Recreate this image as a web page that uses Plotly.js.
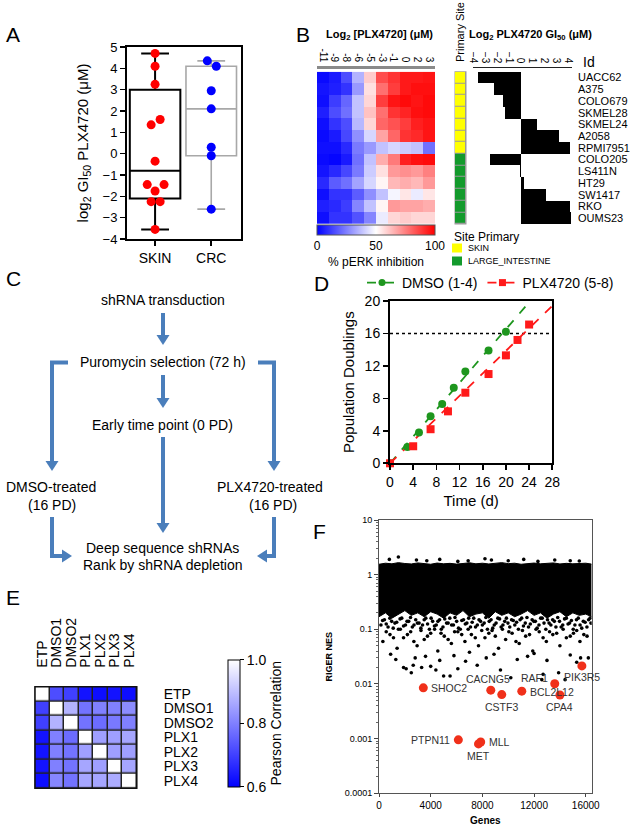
<!DOCTYPE html>
<html><head><meta charset="utf-8">
<script src="https://cdn.plot.ly/plotly-3.0.1.min.js"></script>
<style>body{margin:0;background:#fff}</style>
</head><body><div id="chart" style="width:642px;height:836px"></div>
<script>
// ---------------- DATA ----------------
// Panel A
const gi50Groups = ['SKIN','CRC'];
const boxQ1 = [-2.1, -0.1];
const boxMedian = [-0.8, 2.1];
const boxQ3 = [3.0, 4.1];
const boxLow = [-3.55, -2.6];
const boxHigh = [4.7, 4.35];
const skinGI50 = [4.7, 4.1, 3.25, 1.6, 1.35, -0.35, -1.45, -1.45, -1.75, -2.25, -2.25, -3.55];
const skinOffset = [0, 0, 0, 0.09, -0.07, 0, -0.14, 0.16, 0, -0.07, 0.09, 0];
const crcGI50 = [4.35, 4.1, 2.95, 2.1, 0.3, -0.1, -2.6];
const crcOffset = [-0.07, 0.09, 0, 0, 0, 0, 0];

// Panel B
const concLabels = ['-11','-9','-8','-6','-5','-3','-1','0','2','3'];
const cellLines = ['UACC62','A375','COLO679','SKMEL28','SKMEL24','A2058','RPMI7951','COLO205','LS411N','HT29','SW1417','RKO','OUMS23'];
const pERK = [
  [2, 5, 15, 35, 60, 85, 90, 95, 95, 96],
  [4, 6, 10, 30, 56, 78, 88, 95, 97, 97],
  [3, 12, 20, 38, 58, 88, 96, 98, 96, 98],
  [6, 15, 22, 38, 62, 78, 90, 93, 97, 98],
  [3, 10, 15, 36, 58, 80, 84, 88, 94, 96],
  [2, 5, 14, 28, 42, 68, 80, 90, 92, 96],
  [3, 3, 8, 24, 30, 38, 42, 40, 38, 22],
  [2, 1, 5, 22, 38, 66, 76, 94, 97, 98],
  [4, 8, 14, 24, 40, 56, 70, 72, 70, 75],
  [8, 18, 22, 32, 42, 52, 64, 66, 64, 70],
  [3, 10, 10, 18, 28, 38, 48, 55, 46, 55],
  [6, 8, 12, 26, 38, 52, 70, 68, 68, 66],
  [3, 10, 10, 16, 26, 46, 58, 60, 58, 58]
];
const primarySite = ['SKIN','SKIN','SKIN','SKIN','SKIN','SKIN','SKIN','LARGE_INTESTINE','LARGE_INTESTINE','LARGE_INTESTINE','LARGE_INTESTINE','LARGE_INTESTINE','LARGE_INTESTINE'];
const siteNames = ['SKIN','LARGE_INTESTINE'];
const cellGI50 = [-3.55, -2.25, -1.45, -1.3, 1.35, 3.25, 4.1, -2.55, -0.1, 0.3, 2.1, 4.1, 4.2];
const gi50Ticks = [-4,-3,-2,-1,0,1,2,3,4];

// Panel D
const dmsoDays = [0, 3, 5, 7, 9, 11, 13, 17, 20];
const dmsoPD = [0, 2, 3.8, 5.8, 7.3, 9.3, 11.3, 13.9, 16.2];
const plxDays = [0, 4, 7, 10, 13, 17, 20, 22, 24];
const plxPD = [0, 2.1, 4.2, 6.4, 8.7, 11, 13.3, 15.2, 17.1];
const dmsoFitDays = [0, 24.2];
const dmsoFitPD = [0, 20];
const plxFitDays = [0, 28];
const plxFitPD = [0, 19.4];
const targetDays = [0, 28];
const targetPD = [16, 16];

// Panel E
const sampleNames = ['ETP','DMSO1','DMSO2','PLX1','PLX2','PLX3','PLX4'];
const pearson = [
  [1.00, 0.72, 0.70, 0.63, 0.62, 0.63, 0.62],
  [0.70, 1.00, 0.88, 0.78, 0.80, 0.80, 0.82],
  [0.70, 0.88, 1.00, 0.78, 0.77, 0.79, 0.80],
  [0.63, 0.80, 0.77, 1.00, 0.85, 0.85, 0.86],
  [0.63, 0.80, 0.78, 0.85, 1.00, 0.85, 0.85],
  [0.63, 0.80, 0.78, 0.86, 0.85, 1.00, 0.86],
  [0.62, 0.81, 0.78, 0.86, 0.86, 0.87, 1.00]
];

// Panel F
const geneBins = [0,500,1000,1500,2000,2500,3000,3500,4000,4500,5000,5500,6000,6500,7000,7500,8000,8500,9000,9500,10000,10500,11000,11500,12000,12500,13000,13500,14000,14500,15000,15500,16000,16450];
const bandTop = [1.55,1.62,1.58,1.66,1.6,1.57,1.64,1.6,1.55,1.63,1.58,1.61,1.56,1.6,1.65,1.58,1.62,1.57,1.6,1.66,1.59,1.62,1.55,1.6,1.63,1.58,1.6,1.64,1.57,1.61,1.58,1.6,1.62,1.56];
const bandBottom = [0.17,0.2,0.16,0.19,0.22,0.18,0.2,0.17,0.21,0.19,0.16,0.2,0.18,0.22,0.17,0.19,0.2,0.16,0.21,0.18,0.2,0.17,0.19,0.22,0.18,0.2,0.16,0.19,0.21,0.17,0.2,0.18,0.19,0.17];
const highGeneX = [800,1500,2900,3700,4700,6100,6900,8200,8700,10000,11200,12300,13600,14800,15500];
const highGeneNES = [1.9,2.1,1.85,1.8,1.9,1.75,1.8,1.95,1.85,1.8,1.9,1.75,1.85,1.8,1.78];
const midGeneX1 = [150,420,700,980,1230,1500,1760,2050,2300,2580,2840,3100,3370,3620,3900,4150,4430,4690,4950,5230,5480,5760,6010,6290,6540,6800,7080,7330,7610,7860,8140,8390,8670,8920,9200,9450,9730,9980,10260,10510,10790,11040,11320,11570,11850,12100,12380,12630,12910,13160,13440,13690,13970,14220,14500,14750,15030,15280,15560,15810,16090,16330];
const midGeneNES1 = [0.12,0.15,0.11,0.14,0.13,0.10,0.16,0.12,0.14,0.11,0.15,0.13,0.12,0.16,0.10,0.14,0.12,0.15,0.11,0.13,0.16,0.12,0.14,0.10,0.15,0.13,0.11,0.16,0.12,0.14,0.13,0.10,0.15,0.12,0.16,0.11,0.14,0.13,0.15,0.12,0.10,0.16,0.13,0.11,0.15,0.14,0.12,0.16,0.10,0.13,0.15,0.11,0.14,0.12,0.16,0.13,0.10,0.15,0.12,0.14,0.11,0.16];
const midGeneX2 = [280,560,840,1100,1370,1630,1900,2170,2440,2710,2970,3240,3500,3760,4030,4290,4560,4820,5090,5350,5620,5880,6150,6410,6680,6940,7210,7470,7740,8000,8270,8530,8800,9060,9330,9590,9860,10120,10390,10650,10920,11180,11450,11710,11980,12240,12510,12770,13040,13300,13570,13830,14100,14360,14630,14890,15160,15420,15690,15950,16220,16400];
const midGeneNES2 = [0.145,0.125,0.16,0.105,0.135,0.155,0.115,0.14,0.165,0.12,0.13,0.105,0.15,0.125,0.16,0.115,0.14,0.1,0.155,0.13,0.12,0.165,0.105,0.145,0.125,0.16,0.135,0.11,0.15,0.12,0.165,0.14,0.105,0.13,0.155,0.12,0.16,0.11,0.145,0.135,0.15,0.115,0.165,0.125,0.14,0.105,0.16,0.13,0.15,0.12,0.14,0.165,0.11,0.155,0.125,0.145,0.12,0.16,0.105,0.135,0.15,0.13];
const lowGeneX1 = [300,850,1400,1900,2450,2950,3500,4000,4550,5050,5600,6100,6650,7150,7700,8200,8750,9250,9800,10300,10850,11350,11900,12400,12950,13450,14000,14500,15050,15550,16100];
const lowGeneNES1 = [0.06,0.08,0.045,0.07,0.09,0.05,0.065,0.085,0.04,0.075,0.055,0.09,0.06,0.08,0.05,0.07,0.095,0.045,0.065,0.085,0.055,0.075,0.04,0.09,0.06,0.08,0.05,0.07,0.085,0.06,0.075];
const lowGeneX2 = [560,1120,1650,2200,2700,3250,3750,4300,4800,5350,5850,6400,6900,7450,7950,8500,9000,9550,10050,10600,11100,11650,12150,12700,13200,13750,14250,14800,15300,15850];
const lowGeneNES2 = [0.09,0.07,0.1,0.08,0.06,0.095,0.075,0.1,0.085,0.065,0.09,0.08,0.1,0.07,0.095,0.085,0.075,0.1,0.09,0.06,0.095,0.08,0.1,0.07,0.09,0.085,0.1,0.075,0.095,0.08];
const tailGeneX = [1900,2100,2500,2650,3300,4000,4400,5000,5500,6100,7600,9400,10200,12600,12700,13900,14400,15300,15600,900,1300,2800,3600,4700,5800,6700,7000,8300,8900,10700,11500,12000,13000,14800,16200];
const tailGeneNES = [0.02,0.019,0.016,0.022,0.02,0.021,0.018,0.014,0.014,0.019,0.022,0.018,0.013,0.012,0.015,0.016,0.012,0.025,0.03,0.035,0.028,0.03,0.032,0.027,0.033,0.026,0.038,0.03,0.035,0.028,0.032,0.036,0.027,0.034,0.03];
const hitGenes = ['SHOC2','CACNG5','CSTF3','BCL2L12','RAF1','CPA4','PIK3R5','PTPN11','MET','MLL'];
const hitRank = [3430, 8650, 9500, 11050, 13600, 14000, 15700, 6140, 7700, 7870];
const hitNES = [0.0085, 0.0077, 0.0064, 0.0074, 0.0101, 0.0063, 0.0214, 0.00095, 0.0008, 0.00087];

// ---------------- STYLE / LAYOUT ----------------
const FONT = '"Liberation Sans", Arial, Helvetica, sans-serif';
const W = 642, H = 836;
const X = p => p / W;
const Y = p => 1 - p / H;
const ARROW = '#4a7ebb';
const GREEN = '#1e961e';
const RED = '#ff1a1a';

const traces = [];
const noLeg = {showlegend: false, hoverinfo: 'skip'};

// Panel A boxes
const boxStyles = [{color: '#000', width: 2}, {color: '#a8a8a8', width: 1.6}];
gi50Groups.forEach((g, i) => {
  traces.push(Object.assign({
    type: 'box', x: [i], q1: [boxQ1[i]], median: [boxMedian[i]], q3: [boxQ3[i]],
    lowerfence: [boxLow[i]], upperfence: [boxHigh[i]], width: 0.9, whiskerwidth: 0.55,
    line: boxStyles[i], fillcolor: 'rgba(0,0,0,0)', boxpoints: false, name: g,
    xaxis: 'x', yaxis: 'y'
  }, noLeg));
});
traces.push(Object.assign({type: 'scatter', mode: 'markers', x: skinOffset.map(o => 0 + o), y: skinGI50,
  marker: {color: '#ff0000', size: 9}, cliponaxis: false, xaxis: 'x', yaxis: 'y'}, noLeg));
traces.push(Object.assign({type: 'scatter', mode: 'markers', x: crcOffset.map(o => 1 + o), y: crcGI50,
  marker: {color: '#0000ff', size: 9}, cliponaxis: false, xaxis: 'x', yaxis: 'y'}, noLeg));

// Panel B heatmap
traces.push(Object.assign({type: 'heatmap', z: pERK, x: concLabels, y: cellLines, xaxis: 'x2', yaxis: 'y2',
  zmin: 0, zmax: 100, colorscale: [[0, '#0000ff'], [0.5, '#ffffff'], [1, '#ff0000']],
  colorbar: {orientation: 'h', x: X(376), xanchor: 'center', y: Y(225), yanchor: 'top',
    len: 118 / W, lenmode: 'fraction', thickness: 10, thicknessmode: 'pixels',
    outlinewidth: 1, outlinecolor: '#555', tickvals: [0, 50, 100], ticks: '',
    tickfont: {size: 12, family: FONT}, xpad: 0, ypad: 0,
    title: {text: '% pERK inhibition', side: 'bottom', font: {size: 12, family: FONT}}}
}, noLeg));
// Primary site column
traces.push(Object.assign({type: 'heatmap', z: primarySite.map(s => [siteNames.indexOf(s)]), x: ['site'], y: cellLines,
  xaxis: 'x3', yaxis: 'y3', zmin: 0, zmax: 1, showscale: false, xgap: 1, ygap: 1,
  colorscale: [[0, '#ffff00'], [0.5, '#ffff00'], [0.5, '#139a2c'], [1, '#139a2c']]}, noLeg));
// GI50 bars
traces.push(Object.assign({type: 'bar', orientation: 'h', x: cellGI50, y: cellLines, width: 1,
  marker: {color: '#000', line: {width: 0}}, xaxis: 'x4', yaxis: 'y4'}, noLeg));

// Panel D
traces.push(Object.assign({type: 'scatter', mode: 'lines', x: targetDays, y: targetPD,
  line: {color: '#000', width: 1.6, dash: 'dot'}, xaxis: 'x5', yaxis: 'y5'}, noLeg));
traces.push(Object.assign({type: 'scatter', mode: 'lines', x: dmsoFitDays, y: dmsoFitPD,
  line: {color: GREEN, width: 1.8, dash: 'dash'}, xaxis: 'x5', yaxis: 'y5'}, noLeg));
traces.push(Object.assign({type: 'scatter', mode: 'lines', x: plxFitDays, y: plxFitPD,
  line: {color: RED, width: 1.8, dash: 'dash'}, xaxis: 'x5', yaxis: 'y5'}, noLeg));
traces.push(Object.assign({type: 'scatter', mode: 'markers', x: dmsoDays, y: dmsoPD, cliponaxis: false,
  marker: {color: GREEN, size: 8, symbol: 'circle'}, xaxis: 'x5', yaxis: 'y5'}, noLeg));
traces.push(Object.assign({type: 'scatter', mode: 'markers', x: plxDays, y: plxPD, cliponaxis: false,
  marker: {color: RED, size: 8, symbol: 'square'}, xaxis: 'x5', yaxis: 'y5'}, noLeg));
traces.push({type: 'scatter', mode: 'lines+markers', x: [null], y: [null], name: 'DMSO (1-4)', showlegend: true,
  line: {color: GREEN, width: 1.8, dash: 'dash'}, marker: {color: GREEN, size: 7, symbol: 'circle'}, xaxis: 'x5', yaxis: 'y5'});
traces.push({type: 'scatter', mode: 'lines+markers', x: [null], y: [null], name: 'PLX4720 (5-8)', showlegend: true,
  line: {color: RED, width: 1.8, dash: 'dash'}, marker: {color: RED, size: 7, symbol: 'square'}, xaxis: 'x5', yaxis: 'y5'});

// Panel E
traces.push(Object.assign({type: 'heatmap', z: pearson, x: sampleNames, y: sampleNames, xaxis: 'x6', yaxis: 'y6',
  zmin: 0.6, zmax: 1.0, xgap: 1.5, ygap: 1.5, colorscale: [[0, '#0000ff'], [1, '#ffffff']],
  colorbar: {x: X(228), xanchor: 'left', y: Y(786.7), yanchor: 'bottom', len: (786.7 - 660) / H, lenmode: 'fraction',
    thickness: 12, thicknessmode: 'pixels', outlinewidth: 1, outlinecolor: '#000', xpad: 0, ypad: 0,
    tickvals: [0.6, 0.8, 1.0], ticktext: ['0.6', '0.8', '1.0'], ticks: 'outside', ticklen: 4, tickcolor: '#000',
    tickfont: {size: 14, family: FONT},
    title: {text: 'Pearson Correlation', side: 'right', font: {size: 14, family: FONT}}}
}, noLeg));

// Panel F
traces.push(Object.assign({type: 'scatter', mode: 'lines', x: geneBins, y: bandBottom,
  line: {color: '#000', width: 1}, xaxis: 'x7', yaxis: 'y7'}, noLeg));
traces.push(Object.assign({type: 'scatter', mode: 'lines', x: geneBins, y: bandTop, fill: 'tonexty', fillcolor: '#000',
  line: {color: '#000', width: 1}, xaxis: 'x7', yaxis: 'y7'}, noLeg));
traces.push(Object.assign({type: 'scatter', mode: 'markers',
  x: [].concat(highGeneX, midGeneX1, midGeneX2, lowGeneX1, lowGeneX2, tailGeneX),
  y: [].concat(highGeneNES, midGeneNES1, midGeneNES2, lowGeneNES1, lowGeneNES2, tailGeneNES),
  marker: {color: '#000', size: 3.6}, xaxis: 'x7', yaxis: 'y7'}, noLeg));
traces.push(Object.assign({type: 'scatter', mode: 'markers', x: hitRank, y: hitNES,
  marker: {color: '#f0301a', size: 9}, xaxis: 'x7', yaxis: 'y7'}, noLeg));

// ---------- axes ----------
const hidden = {showgrid: false, zeroline: false, showticklabels: false, ticks: '', showline: false};
const frame = {showgrid: false, zeroline: false, showline: true, mirror: true, linecolor: '#000', linewidth: 2,
  ticks: 'outside', ticklen: 5, tickwidth: 1.6, tickcolor: '#000'};

const layout = {
  width: W, height: H, margin: {l: 0, r: 0, t: 0, b: 0},
  paper_bgcolor: '#fff', plot_bgcolor: 'rgba(0,0,0,0)',
  font: {family: FONT, color: '#000', size: 13},
  showlegend: true,
  legend: {orientation: 'h', x: X(362), xanchor: 'left', y: Y(283), yanchor: 'middle',
    font: {size: 14, family: FONT}, bgcolor: 'rgba(0,0,0,0)', itemwidth: 30, traceorder: 'normal'},
  // A
  xaxis: Object.assign({}, frame, {domain: [X(127), X(241)], range: [-0.5, 1.53], tickvals: [0, 1], ticktext: gi50Groups,
    tickfont: {size: 14}, anchor: 'y'}),
  yaxis: Object.assign({}, frame, {domain: [Y(239), Y(47)], range: [-4, 5], dtick: 1, tickfont: {size: 13}, anchor: 'x',
    title: {text: 'log<sub>2</sub> GI<sub>50</sub> PLX4720 (μM)', font: {size: 15}, standoff: 10}}),
  // B heatmap
  xaxis2: {domain: [X(317), X(435)], type: 'category', anchor: 'free', position: Y(66.7), side: 'top',
    tickmode: 'array', tickvals: concLabels, ticktext: concLabels,
    tickangle: 90, tickfont: {size: 10}, ticks: '', showline: true, linecolor: '#8a8a8a', linewidth: 3,
    showgrid: false, zeroline: false},
  yaxis2: Object.assign({}, hidden, {domain: [Y(224), Y(71.7)], type: 'category', autorange: 'reversed', anchor: 'x2'}),
  xaxis3: Object.assign({}, hidden, {domain: [X(455), X(466)], anchor: 'y3'}),
  yaxis3: Object.assign({}, hidden, {domain: [Y(224), Y(71.7)], type: 'category', autorange: 'reversed', anchor: 'x3'}),
  xaxis4: {domain: [X(473), X(572)], range: [-4, 4.3], anchor: 'free', position: Y(66.7), side: 'top',
    tickmode: 'array', tickvals: gi50Ticks, tickangle: 90, tickfont: {size: 10}, ticks: '', showline: true, linecolor: '#222',
    linewidth: 1.5, showgrid: false, zeroline: false},
  yaxis4: {domain: [Y(224), Y(71.7)], type: 'category', autorange: 'reversed', anchor: 'x4', side: 'right',
    tickmode: 'array', tickvals: cellLines, ticktext: cellLines,
    ticks: '', showline: false, showgrid: false, zeroline: false, tickfont: {size: 11}, ticklabelstandoff: 5},
  bargap: 0,
  // D
  xaxis5: Object.assign({}, frame, {domain: [X(390), X(552.3)], range: [0, 28], dtick: 4, tickfont: {size: 14}, anchor: 'y5',
    title: {text: 'Time (d)', font: {size: 15}, standoff: 6}}),
  yaxis5: Object.assign({}, frame, {domain: [Y(463.3), Y(301)], range: [0, 20], dtick: 4, tickfont: {size: 14}, anchor: 'x5',
    title: {text: 'Population Doublings', font: {size: 15}, standoff: 6}}),
  // E
  xaxis6: {domain: [X(35), X(136.7)], type: 'category', side: 'top', anchor: 'y6', tickangle: -90,
    tickmode: 'array', tickvals: sampleNames, ticktext: sampleNames,
    tickfont: {size: 14}, ticks: '', showline: false, showgrid: false, zeroline: false, ticklabelstandoff: 18},
  yaxis6: {domain: [Y(788.3), Y(686.7)], type: 'category', autorange: 'reversed', side: 'right', anchor: 'x6',
    tickmode: 'array', tickvals: sampleNames, ticktext: sampleNames,
    tickfont: {size: 14}, ticks: '', showline: false, showgrid: false, zeroline: false, ticklabelstandoff: 26},
  // F
  xaxis7: {domain: [X(379), X(591.7)], range: [0, 16460], tickvals: [0, 4000, 8000, 12000, 16000], tickformat: 'd',
    ticks: 'outside', ticklen: 3, tickcolor: '#444', showline: true, mirror: true, linecolor: '#555', linewidth: 1,
    showgrid: false, zeroline: false, tickfont: {size: 10}, anchor: 'y7',
    title: {text: '<b>Genes</b>', font: {size: 10}, standoff: 6}},
  yaxis7: {domain: [Y(793.3), Y(520)], type: 'log', range: [-4, 1], dtick: 1, tickformat: '~g',
    ticks: 'outside', ticklen: 4, tickcolor: '#444', showline: true, mirror: true, linecolor: '#555', linewidth: 1,
    minor: {ticks: 'outside', ticklen: 2, tickcolor: '#666', showgrid: false},
    showgrid: false, zeroline: false, tickfont: {size: 9}, anchor: 'x7',
    title: {text: '<b>RIGER NES</b>', font: {size: 9}, standoff: 10}},
  shapes: [],
  annotations: []
};

// background frames for cell borders
layout.shapes.push({type: 'rect', xref: 'paper', yref: 'paper', x0: X(454.5), x1: X(466.5), y0: Y(224.5), y1: Y(71.2),
  fillcolor: '#9a9a9a', line: {width: 0}, layer: 'below'});
layout.shapes.push({type: 'rect', xref: 'paper', yref: 'paper', x0: X(34.5), x1: X(137.2), y0: Y(788.8), y1: Y(686.2),
  fillcolor: '#222', line: {width: 0}, layer: 'below'});
layout.shapes.push({type: 'rect', xref: 'paper', yref: 'paper', x0: X(35), x1: X(136.7), y0: Y(788.3), y1: Y(686.7),
  fillcolor: 'rgba(0,0,0,0)', line: {width: 1.5, color: '#111'}, layer: 'above'});

const ann = layout.annotations;
const txt = (x, y, text, size, extra) => ann.push(Object.assign({xref: 'paper', yref: 'paper', x: X(x), y: Y(y), text: text,
  showarrow: false, font: {size: size, family: FONT, color: '#000'}, xanchor: 'center', yanchor: 'middle'}, extra || {}));

// panel letters
txt(13, 35, 'A', 21); txt(303, 35, 'B', 21); txt(13, 279, 'C', 21); txt(321, 283, 'D', 21);
txt(13, 597, 'E', 21); txt(319, 531, 'F', 21);

// Panel B texts
txt(379, 35, '<b>Log<sub>2</sub> [PLX4720] (μM)</b>', 11);
txt(530, 35, '<b>Log<sub>2</sub> PLX4720 GI<sub>50</sub> (μM)</b>', 11);
txt(460, 32, 'Primary Site', 11, {textangle: -90});
txt(581, 62, 'Id', 14, {xanchor: 'left'});
txt(452, 237, 'Site Primary', 12, {xanchor: 'left'});
const siteColors = ['#ffff00', '#139a2c'];
const siteKeyY = [248, 261];
siteNames.forEach((s, i) => {
  layout.shapes.push({type: 'rect', xref: 'paper', yref: 'paper', x0: X(452), x1: X(462), y0: Y(siteKeyY[i] + 4.5), y1: Y(siteKeyY[i] - 4.5),
    fillcolor: siteColors[i], line: {width: 0}});
  txt(466, siteKeyY[i], s, 9, {xanchor: 'left'});
});

// Panel C flowchart
txt(163, 300, 'shRNA transduction', 14);
txt(163, 362, 'Puromycin selection (72 h)', 14);
txt(163, 425, 'Early time point (0 PD)', 14);
txt(51, 487, 'DMSO-treated', 14);
txt(52, 505, '(16 PD)', 14);
txt(270, 487, 'PLX4720-treated', 14);
txt(273, 505, '(16 PD)', 14);
txt(163, 548, 'Deep sequence shRNAs', 14);
txt(163, 565, 'Rank by shRNA depletion', 14);
const P = (x, y) => X(x) + ',' + Y(y);
const path = pts => layout.shapes.push({type: 'path', xref: 'paper', yref: 'paper',
  path: pts.map((p, i) => (i ? 'L' : 'M') + P(p[0], p[1])).join(' '), line: {color: ARROW, width: 4}});
const arrow = (x1, y1, x2, y2) => {
  const L = Math.hypot(x2 - x1, y2 - y1), ux = (x2 - x1) / L, uy = (y2 - y1) / L;
  const hl = 10, hw = 6.5;
  const bx = x2 - ux * hl, by = y2 - uy * hl;
  path([[x1, y1], [bx + ux, by + uy]]);
  layout.shapes.push({type: 'path', xref: 'paper', yref: 'paper', fillcolor: ARROW, line: {width: 0},
    path: 'M' + P(x2, y2) + ' L' + P(bx - uy * hw, by + ux * hw) + ' L' + P(bx + uy * hw, by - ux * hw) + ' Z'});
};
arrow(163, 313, 163, 345);
arrow(163, 375, 163, 408);
arrow(163, 437, 163, 533);
path([[68, 362.5], [52, 362.5], [52, 450]]); arrow(52, 445, 52, 471);
path([[258, 362.5], [274, 362.5], [274, 450]]); arrow(274, 445, 274, 471);
path([[52, 517], [52, 556], [60, 556]]); arrow(54, 556, 72, 556);
path([[274, 517], [274, 556], [266, 556]]); arrow(272, 556, 257, 556);

// Panel F hit labels
const hitLabelPos = {
  SHOC2: {xa: 'left', dx: 6, dy: 0}, CACNG5: {xa: 'center', dx: -3, dy: 11}, CSTF3: {xa: 'center', dx: 0, dy: -12},
  BCL2L12: {xa: 'left', dx: 6, dy: -1}, RAF1: {xa: 'right', dx: -5, dy: 6}, CPA4: {xa: 'center', dx: 0, dy: -12},
  PIK3R5: {xa: 'center', dx: 0, dy: -11}, PTPN11: {xa: 'right', dx: -6, dy: 0}, MET: {xa: 'center', dx: 0, dy: -12},
  MLL: {xa: 'left', dx: 6, dy: 0}
};
hitGenes.forEach((g, i) => {
  const p = hitLabelPos[g];
  ann.push({xref: 'x7', yref: 'y7', x: hitRank[i], y: Math.log10(hitNES[i]), text: g, showarrow: false,
    xanchor: p.xa, yanchor: 'middle', xshift: p.dx, yshift: p.dy, font: {size: 10.5, family: FONT, color: '#333'}});
});

Plotly.newPlot('chart', traces, layout, {displayModeBar: false, staticPlot: true});
</script></body></html>
